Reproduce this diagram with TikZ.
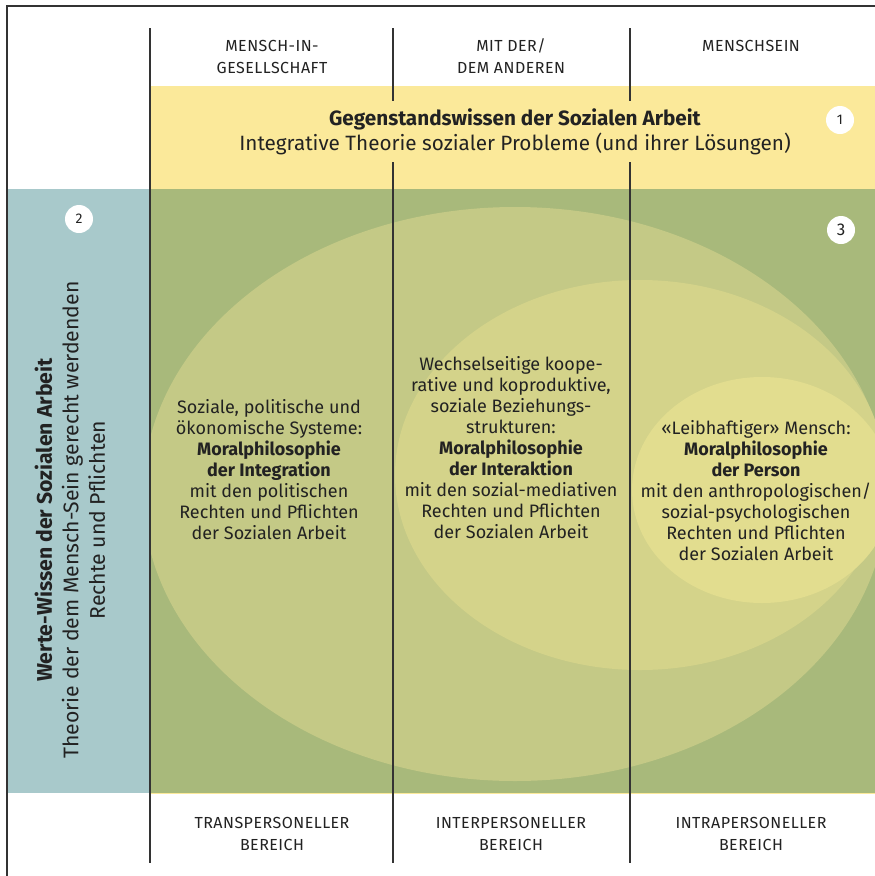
\documentclass[tikz,border=0pt]{standalone}
\usepackage{fontspec}
\setmainfont{Fira Sans}
\definecolor{bandyellow}{HTML}{FBE99A}
\definecolor{panelblue}{HTML}{A8C9CB}
\definecolor{fieldgreen}{HTML}{A8B97B}
\definecolor{ellone}{HTML}{C4C986}
\definecolor{elltwo}{HTML}{D4D38A}
\definecolor{ellthree}{HTML}{E2DD8F}
\definecolor{ink}{HTML}{222222}
\definecolor{rule}{HTML}{333333}
\begin{document}
\begin{tikzpicture}[x=1pt,y=-1pt,
  framerule/.style={draw=rule,line width=1.4pt},
  colrule/.style={draw=rule,line width=1.1pt},
  badge/.style={circle,fill=white,minimum size=28pt,inner sep=0pt,text=ink,font=\fontsize{14}{14}\selectfont},
  headlabel/.style={align=center,text=ink,font=\fontsize{16}{22}\selectfont\addfontfeatures{LetterSpace=3}},
  bodytext/.style={align=center,text=ink,font=\fontsize{18}{21}\selectfont},
  bandtext/.style={align=center,text=ink,font=\fontsize{20.7}{25}\selectfont},
  sidetext/.style={align=center,text=ink,rotate=90,font=\fontsize{21.2}{26.5}\selectfont}]
\useasboundingbox (0,0) rectangle (875,876);
\fill[white] (0,0) rectangle (875,876);
% bands
\fill[bandyellow] (150,86) rectangle (875,189);
\fill[panelblue] (7,189) rectangle (150,793);
\fill[fieldgreen] (150,189) rectangle (875,793);
\begin{scope}
  \clip (150,189) rectangle (875,793);
  \fill[ellone] (515,494) ellipse [x radius=372pt, y radius=287pt];
  \fill[elltwo] (640,475) ellipse [x radius=245pt, y radius=195pt];
  \fill[ellthree] (762,490) ellipse [x radius=130pt, y radius=113pt];
\end{scope}
\draw[bandyellow,line width=1pt] (150,793) -- (875,793);
% frame
\draw[framerule] (7,876) -- (7,6) -- (875,6);
% column rules
\draw[colrule] (150,28) -- (150,863);
\draw[colrule] (393,28) -- (393,101);
\draw[colrule] (393,162) -- (393,863);
\draw[colrule] (630,28) -- (630,101);
\draw[colrule] (630,162) -- (630,863);
% header labels
\node[headlabel] (h1) at (272,56.5) {MENSCH-IN-\\GESELLSCHAFT};
\node[headlabel] (h2) at (511,56.5) {MIT DER/\\DEM ANDEREN};
\node[headlabel,anchor=base] (h3) at (751,51) {MENSCHSEIN};
% footer labels
\node[headlabel] (f1) at (272,834) {TRANSPERSONELLER\\BEREICH};
\node[headlabel] (f2) at (511,834) {INTERPERSONELLER\\BEREICH};
\node[headlabel] (f3) at (751,834) {INTRAPERSONELLER\\BEREICH};
% band text
\node[bandtext] (band) at (515,132) {\textbf{Gegenstandswissen der Sozialen Arbeit}\\Integrative Theorie sozialer Probleme (und ihrer Lösungen)};
% side text
\node[sidetext] (side) at (70,520) {\textbf{Werte-Wissen der Sozialen Arbeit}\\Theorie der dem Mensch-Sein gerecht werdenden\\Rechte und Pflichten};
% ellipse texts
\node[bodytext] (t1) at (269,470) {Soziale, politische und\\ökonomische Systeme:\\\textbf{Moralphilosophie}\\\textbf{der Integration}\\mit den politischen\\Rechten und Pflichten\\der Sozialen Arbeit};
\node[bodytext] (t2) at (511,448) {Wechselseitige koope-\\rative und koproduktive,\\soziale Beziehungs-\\strukturen:\\\textbf{Moralphilosophie}\\\textbf{der Interaktion}\\mit den sozial-mediativen\\Rechten und Pflichten\\der Sozialen Arbeit};
\node[bodytext] (t3) at (756,491) {«Leibhaftiger» Mensch:\\\textbf{Moralphilosophie}\\\textbf{der Person}\\mit den anthropologischen/\\sozial-psychologischen\\Rechten und Pflichten\\der Sozialen Arbeit};
% badges
\node[badge] (b1) at (840,120) {1};
\node[badge] (b2) at (79,219) {2};
\node[badge,font=\fontsize{17}{17}\selectfont] (b3) at (841,230) {3};
\end{tikzpicture}
\end{document}
